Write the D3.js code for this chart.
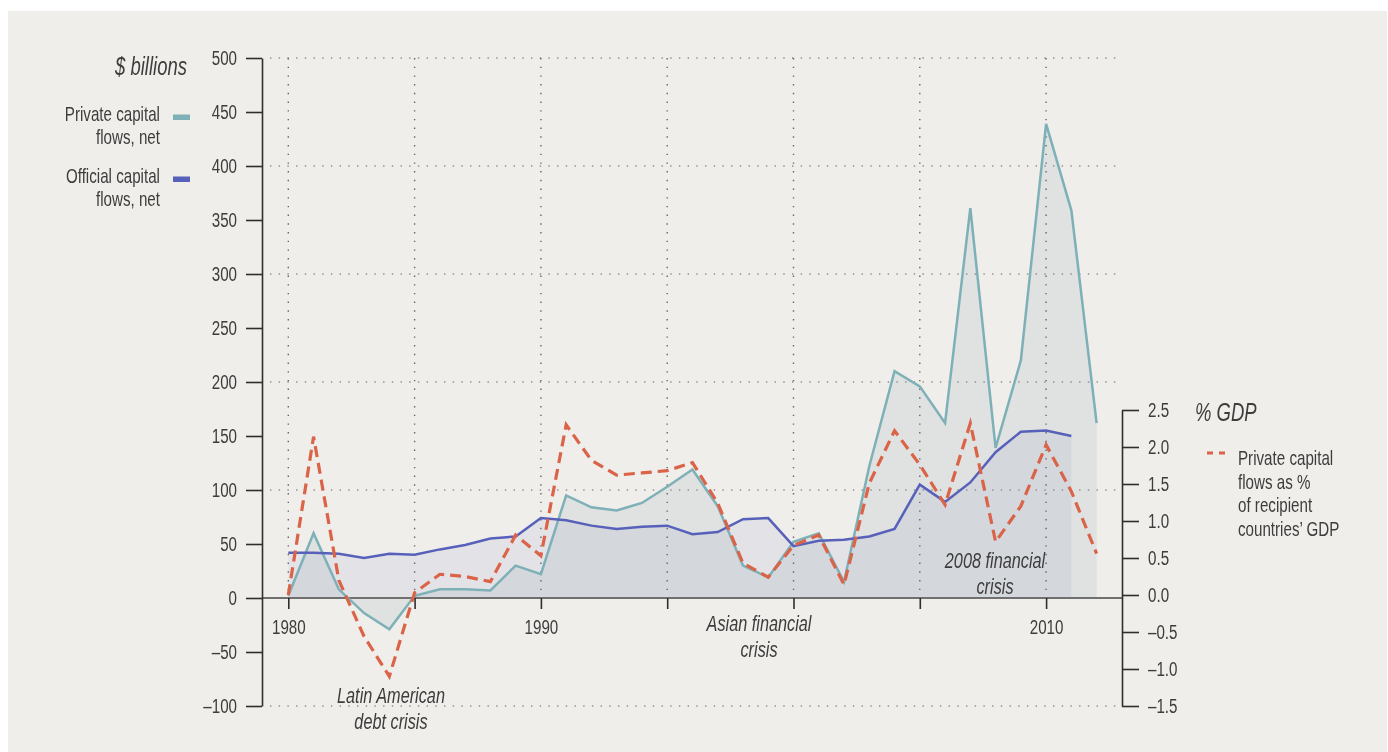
<!DOCTYPE html>
<html>
<head>
<meta charset="utf-8">
<script src="https://cdn.jsdelivr.net/npm/d3@7"></script>
<style>
  html, body { margin: 0; padding: 0; background: #ffffff; }
  svg { display: block; }
  text { font-family: "Liberation Sans", Arial, sans-serif; fill: #3d3d3d; }
  .area { mix-blend-mode: multiply; }
</style>
</head>
<body>
<svg id="chart" width="1388" height="752"></svg>
<script>
// Net capital flows to developing countries, 1980–2012
const years = d3.range(1980, 2013);
const privateFlows = [2, 60, 8, -14, -29, 2, 8, 8, 7, 30, 22, 95, 84, 81, 88, 103, 119, 85, 30, 19,
  52, 60, 15, 122, 210, 196, 162, 361, 139, 220, 439, 359, 162];
const officialFlows = [42, 42, 41, 37, 41, 40, 45, 49, 55, 57, 74, 72, 67, 64, 66, 67, 59, 61, 73, 74,
  48, 53, 54, 57, 64, 105, 89, 107, 135, 154, 155, 150];
const privatePctGDP = [0.0, 2.14, 0.2, -0.56, -1.1, 0.03, 0.28, 0.25, 0.18, 0.81, 0.53, 2.3, 1.82, 1.62, 1.65, 1.68, 1.79,
  1.24, 0.43, 0.24, 0.67, 0.81, 0.14, 1.51, 2.22, 1.76, 1.22, 2.32, 0.72, 1.2, 2.03, 1.4, 0.56];

const leftTicks = d3.range(-100, 501, 50);
const rightTicks = [-1.5, -1.0, -0.5, 0.0, 0.5, 1.0, 1.5, 2.0, 2.5];
const yearTicks = [1980, 1985, 1990, 1995, 2000, 2005, 2010];
const labelledYears = [1980, 1990, 2010];
const gridValues = [-100, 100, 200, 300, 400, 500];

const colors = {
  panel: "#efeeea",
  privateLine: "#7eb0b8",
  privateFill: "#eef3f4",
  officialLine: "#5761ba",
  officialFill: "#f3f3fb",
  pct: "#da6348",
  axis: "#2e2e2e",
  zero: "#707070",
  grid: "#8e8e8e"
};

// Horizontal squeeze applied to all text, giving a condensed face
const CONDENSE = 0.74;
function condense(textSel) {
  textSel.each(function () {
    const el = d3.select(this);
    let ax = parseFloat(el.attr("x"));
    if (isNaN(ax)) {
      const ts = el.select("tspan");
      ax = ts.empty() ? 0 : (parseFloat(ts.attr("x")) || 0);
    }
    el.attr("transform", `matrix(${CONDENSE},0,0,1,${ax * (1 - CONDENSE)},0)`);
  });
}

const svg = d3.select("#chart");
svg.append("rect").attr("x", 8).attr("y", 11).attr("width", 1379).attr("height", 745).attr("fill", colors.panel);

const x = d3.scaleLinear().domain([1980, 2010]).range([288.3, 1046.1]);
const yL = d3.scaleLinear().domain([-100, 500]).range([706, 58]);
const yR = d3.scaleLinear().domain([-1.5, 2.5]).range([706, 410]);

const dash = s => String(s).replace("-", "\u2013").replace("\u2212", "\u2013");

const privateData = years.map((yr, i) => ({ yr, v: privateFlows[i] }));
const officialData = officialFlows.map((v, i) => ({ yr: years[i], v }));
const pctData = years.map((yr, i) => ({ yr, v: privatePctGDP[i] }));

// Filled areas (multiply so that overlaps darken)
const areaL = d3.area().x(d => x(d.yr)).y0(yL(0)).y1(d => yL(d.v));
svg.append("path").datum(privateData).attr("class", "area").attr("d", areaL).attr("fill", colors.privateFill);
svg.append("path").datum(officialData).attr("class", "area").attr("d", areaL).attr("fill", colors.officialFill);

// Dotted grid
const grid = svg.append("g");
grid.selectAll("line.h").data(gridValues).join("line")
  .attr("x1", 270).attr("x2", 1118)
  .attr("y1", d => yL(d)).attr("y2", d => yL(d))
  .attr("stroke", colors.grid).attr("stroke-width", 1.4)
  .attr("stroke-dasharray", "1.4,7.3");
grid.selectAll("line.v").data(yearTicks).join("line")
  .attr("x1", d => x(d)).attr("x2", d => x(d))
  .attr("y1", yL(500)).attr("y2", yL(0))
  .attr("stroke", "#666").attr("stroke-width", 1.4)
  .attr("stroke-dasharray", "1.4,7.3");

// Zero line
svg.append("line").attr("x1", 262).attr("x2", 1122).attr("y1", yL(0)).attr("y2", yL(0))
  .attr("stroke", colors.zero).attr("stroke-width", 2);

// Series lines
const lineL = d3.line().x(d => x(d.yr)).y(d => yL(d.v));
const lineR = d3.line().x(d => x(d.yr)).y(d => yR(d.v));
svg.append("path").datum(privateData).attr("d", lineL).attr("fill", "none")
  .attr("stroke", colors.privateLine).attr("stroke-width", 2.5);
svg.append("path").datum(officialData).attr("d", lineL).attr("fill", "none")
  .attr("stroke", colors.officialLine).attr("stroke-width", 2.5);
svg.append("path").datum(pctData).attr("d", lineR).attr("fill", "none")
  .attr("stroke", colors.pct).attr("stroke-width", 3.2).attr("stroke-dasharray", "11,6");

// Axes
function styleAxis(g) {
  g.selectAll(".domain").attr("stroke", colors.axis).attr("stroke-width", 1.6);
  g.selectAll(".tick line").attr("stroke", colors.axis).attr("stroke-width", 1.6);
  g.selectAll(".tick text").attr("fill", "#3d3d3d").style("font-size", "20.5px")
    .style("font-family", "'Liberation Sans', Arial, sans-serif").call(condense);
}
svg.append("g").attr("transform", "translate(262,0)")
  .call(d3.axisLeft(yL).tickValues(leftTicks).tickSize(16).tickSizeOuter(0).tickPadding(9).tickFormat(d => dash(d)))
  .call(styleAxis);
svg.append("g").attr("transform", "translate(1122,0)")
  .call(d3.axisRight(yR).tickValues(rightTicks).tickSize(17).tickSizeOuter(0).tickPadding(9)
    .tickFormat(d => dash(d3.format(".1f")(Math.abs(d) < 1e-9 ? 0 : d))))
  .call(styleAxis);
const xAxis = svg.append("g").attr("transform", `translate(0,${yL(0)})`)
  .call(d3.axisBottom(x).tickValues(yearTicks).tickSize(11).tickSizeOuter(0).tickPadding(10)
    .tickFormat(d => labelledYears.includes(d) ? String(d) : ""))
  .call(styleAxis);
xAxis.select(".domain").remove();

// Axis titles
svg.append("text").attr("x", 187).attr("y", 75).attr("text-anchor", "end")
  .style("font-size", "25px").style("font-style", "italic").text("$ billions").call(condense);
svg.append("text").attr("x", 1195).attr("y", 421).attr("text-anchor", "start")
  .style("font-size", "25px").style("font-style", "italic").text("% GDP").call(condense);

// Left legend
const leftLegend = [
  { lines: ["Private capital", "flows, net"], color: colors.privateLine, y: 121 },
  { lines: ["Official capital", "flows, net"], color: colors.officialLine, y: 183 }
];
leftLegend.forEach(item => {
  const t = svg.append("text").attr("text-anchor", "end").style("font-size", "20.5px");
  item.lines.forEach((s, i) => t.append("tspan").attr("x", 160).attr("y", item.y + i * 23).text(s));
  t.call(condense);
  svg.append("rect").attr("x", 173).attr("y", item.y - 6.5).attr("width", 17).attr("height", 5.5).attr("fill", item.color);
});

// Right legend
svg.append("line").attr("x1", 1207).attr("x2", 1226).attr("y1", 453).attr("y2", 453)
  .attr("stroke", colors.pct).attr("stroke-width", 3).attr("stroke-dasharray", "6,6");
const rl = svg.append("text").attr("text-anchor", "start").style("font-size", "20.5px");
["Private capital", "flows as %", "of recipient", "countries\u2019 GDP"].forEach((s, i) =>
  rl.append("tspan").attr("x", 1238).attr("y", 465 + i * 23.7).text(s));
rl.call(condense);

// Event annotations
const notes = [
  { lines: ["Latin American", "debt crisis"], cx: 391, y: 703 },
  { lines: ["Asian financial", "crisis"], cx: 759, y: 631 },
  { lines: ["2008 financial", "crisis"], cx: 995, y: 568 }
];
notes.forEach(n => {
  const t = svg.append("text").attr("text-anchor", "middle").style("font-size", "22px").style("font-style", "italic");
  n.lines.forEach((s, i) => t.append("tspan").attr("x", n.cx).attr("y", n.y + i * 26).text(s));
  t.call(condense);
});
</script>
</body>
</html>
